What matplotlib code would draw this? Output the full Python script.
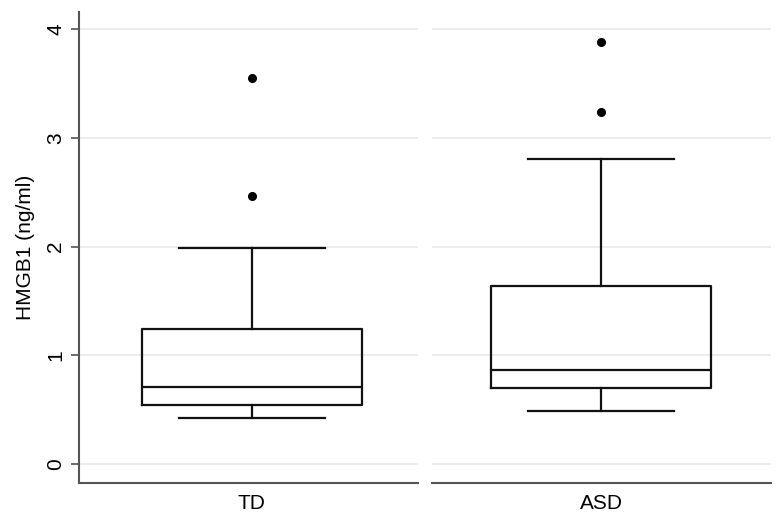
import matplotlib
matplotlib.use('Agg')
import matplotlib.pyplot as plt

plt.rcParams['font.family'] = ['Liberation Sans', 'DejaVu Sans']

# 组别与箱线图统计量
groups = ['TD', 'ASD']
whislo = [0.42, 0.49]
q1 = [0.54, 0.70]
med = [0.71, 0.865]
q3 = [1.24, 1.64]
whishi = [1.99, 2.81]
fliers = [[2.47, 3.55], [3.24, 3.88]]
yticks = [0, 1, 2, 3, 4]

W, H = 783, 524
fig = plt.figure(figsize=(W / 100, H / 100), dpi=100)

# 面板的像素位置
panels = [(79, 418), (432, 771)]
centers = [0.51, 0.499]
top, bottom = 12, 483

spine_c = '#555555'
grid_c = '#ebebeb'
line_c = '#111111'

for i, (x0, x1) in enumerate(panels):
    ax = fig.add_axes([x0 / W, (H - bottom) / H, (x1 - x0) / W, (bottom - top) / H])
    stats = [dict(whislo=whislo[i], q1=q1[i], med=med[i], q3=q3[i],
                  whishi=whishi[i], fliers=fliers[i], label=groups[i])]
    ax.bxp(stats, positions=[centers[i]], widths=0.648, capwidths=0.43,
           showfliers=True, patch_artist=False,
           boxprops=dict(color=line_c, linewidth=1.6),
           medianprops=dict(color=line_c, linewidth=1.6),
           whiskerprops=dict(color=line_c, linewidth=1.6),
           capprops=dict(color=line_c, linewidth=1.6),
           flierprops=dict(marker='o', markerfacecolor='black',
                           markeredgecolor='black', markersize=5.5))
    ax.set_xlim(0, 1)
    ax.set_ylim(-0.175, 4.159)
    ax.set_yticks(yticks)
    ax.yaxis.grid(True, color=grid_c, linewidth=1.3)
    ax.set_axisbelow(True)
    ax.set_xticks([centers[i]])
    ax.set_xticklabels([groups[i]], fontsize=15)
    ax.tick_params(axis='x', length=0, pad=8)
    for s in ['top', 'right']:
        ax.spines[s].set_visible(False)
    ax.spines['bottom'].set_color(spine_c)
    ax.spines['bottom'].set_linewidth(1.5)
    if i == 0:
        ax.spines['left'].set_color(spine_c)
        ax.spines['left'].set_linewidth(1.5)
        ax.tick_params(axis='y', length=6, width=1.2, color=spine_c, pad=4,
                       labelsize=15)
        for lab in ax.get_yticklabels():
            lab.set_rotation(90)
            lab.set_va('center')
        ax.set_ylabel('HMGB1 (ng/ml)', fontsize=15, labelpad=8)
    else:
        ax.spines['left'].set_visible(False)
        ax.tick_params(axis='y', length=0, labelleft=False)

fig.savefig('out.png', dpi=100, facecolor='white')
